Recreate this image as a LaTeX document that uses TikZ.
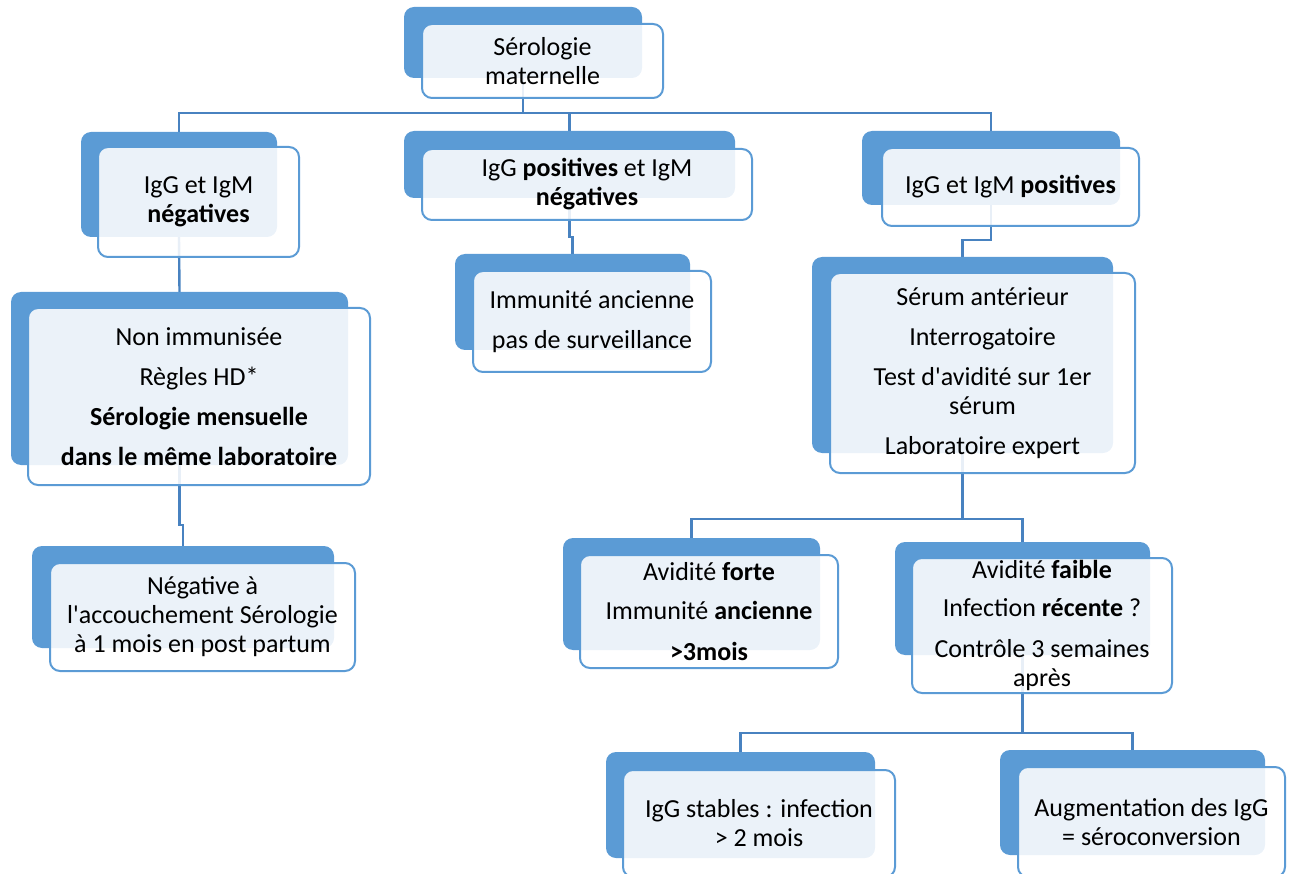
\documentclass[tikz,border=0pt]{standalone}
\usepackage{fontspec}
\setmainfont{Carlito}
\newfontfamily\carl{Carlito}
\usetikzlibrary{fit,backgrounds}
\definecolor{bluefill}{RGB}{91,155,213}
\definecolor{blueline}{RGB}{91,155,213}
\definecolor{connblue}{RGB}{72,130,192}
\begin{document}
\begin{tikzpicture}[x=1pt,y=-1pt,
 backbox/.style={fill=bluefill, rounded corners=10pt, inner sep=0pt, outer sep=0pt},
 frontbox/.style={draw=blueline, line width=2pt, fill=white, fill opacity=0.88, rounded corners=10pt, inner sep=0pt, outer sep=0pt},
 txt/.style={align=center, font=\carl\fontsize{26}{29}\selectfont, text=black, inner sep=0pt},
 conn/.style={draw=connblue, line width=2.4pt}]
\useasboundingbox (0,0) rectangle (1290,874);

% level 0
\node[backbox, fit={(404,7) (642,78)}] (b0) {};
\node[frontbox, fit={(422,24) (663,98)}] (f0) {};
\node[txt] (t0) at (f0.center) {Sérologie\\maternelle};

% level 1
\node[backbox, fit={(81,132) (277,237)}] (bL1) {};
\node[frontbox, fit={(98,147) (299,257)}] (fL1) {};
\node[txt] (tL1) at (fL1.center) {IgG et IgM\\\textbf{négatives}};

\node[backbox, fit={(404,131) (735,198)}] (bM1) {};
\node[frontbox, fit={(422,149) (752,220)}] (fM1) {};
\node[txt] (tM1) at (fM1.center) {IgG \textbf{positives} et IgM\\\textbf{négatives}};

\node[backbox, fit={(862,131) (1120,205)}] (bR1) {};
\node[frontbox, fit={(882,148) (1139,226)}] (fR1) {};
\node[txt] (tR1) at (fR1.center) {IgG et IgM \textbf{positives}};

% level 2
\node[backbox, fit={(11,292) (348,465)}] (bL2) {};
\node[frontbox, fit={(28,308) (370,485)}] (fL2) {};
\node[txt] (tL2) at (fL2.center) {Non immunisée\\[11pt]Règles HD*\\[11pt]\textbf{Sérologie mensuelle}\\[11pt]\textbf{dans le même laboratoire}};

\node[backbox, fit={(455,254) (690,350)}] (bM2) {};
\node[frontbox, fit={(473,271) (711,372)}] (fM2) {};
\node[txt] (tM2) at (fM2.center) {Immunité ancienne\\[11pt]pas de surveillance};

\node[backbox, fit={(812,257) (1113,453)}] (bR2) {};
\node[frontbox, fit={(830,273) (1135,473)}] (fR2) {};
\node[txt] (tR2) at (fR2.center) {Sérum antérieur\\[11pt]Interrogatoire\\[11pt]Test d'avidité sur 1er\\sérum\\[11pt]Laboratoire expert};

% level 3
\node[backbox, fit={(32,546) (334,648)}] (bL3) {};
\node[frontbox, fit={(50,563) (355,671)}] (fL3) {};
\node[txt] (tL3) at (fL3.center) {Négative à\\l'accouchement Sérologie\\à 1 mois en post partum};

\node[backbox, fit={(563,538) (820,650)}] (bAF) {};
\node[frontbox, fit={(580,555) (838,668)}] (fAF) {};
\node[txt] (tAF) at (fAF.center) {Avidité \textbf{forte}\\[10pt]Immunité \textbf{ancienne}\\[12pt]\textbf{>3mois}};

\node[backbox, fit={(895,542) (1150,655)}] (bAf) {};
\node[frontbox, fit={(912,558) (1172,693)}] (fAf) {};
\node[txt] (tAf) at (fAf.center) {Avidité \textbf{faible}\\[9pt]Infection \textbf{récente} ?\\[12pt]Contrôle 3 semaines\\après};

% level 4
\node[backbox, fit={(606,752) (875,858)}] (bS) {};
\node[frontbox, fit={(623,770) (895,877)}] (fS) {};
\node[txt] (tS) at (fS.center) {IgG stables : infection\\> 2 mois};

\node[backbox, fit={(1000,750) (1265,855)}] (bA) {};
\node[frontbox, fit={(1018,767) (1285,877)}] (fA) {};
\node[txt] (tA) at (fA.center) {Augmentation des IgG\\= séroconversion};

% bus levels
\coordinate (bus0) at (0,113);
\coordinate (bus1) at (0,237);
\coordinate (bus2) at (0,240);
\coordinate (bus3) at (0,525);
\coordinate (bus4) at (0,519);
\coordinate (bus5) at (0,733);

\begin{pgfonlayer}{background}
\draw[conn] (b0.south) -- (b0.south |- bus0);
\draw[conn] (bL1.north) -- (bL1.north |- bus0) -- (bR1.north |- bus0) -- (bR1.north);
\draw[conn] (bM1.north) -- (bM1.north |- bus0);
\draw[conn] (bL1.south) -- (bL2.north);
\draw[conn] (bM1.south) -- (bM1.south |- bus1) -| (bM2.north);
\draw[conn] (bR1.south) -- (bR1.south |- bus2) -| (bR2.north);
\draw[conn] (bL2.south) -- (bL2.south |- bus3) -| (bL3.north);
\draw[conn] (bR2.south) -- (bR2.south |- bus4);
\draw[conn] (bAF.north) -- (bAF.north |- bus4) -- (bAf.north |- bus4) -- (bAf.north);
\draw[conn] (bAf.south) -- (bAf.south |- bus5);
\draw[conn] (bS.north) -- (bS.north |- bus5) -- (bA.north |- bus5) -- (bA.north);
\end{pgfonlayer}
\end{tikzpicture}
\end{document}
